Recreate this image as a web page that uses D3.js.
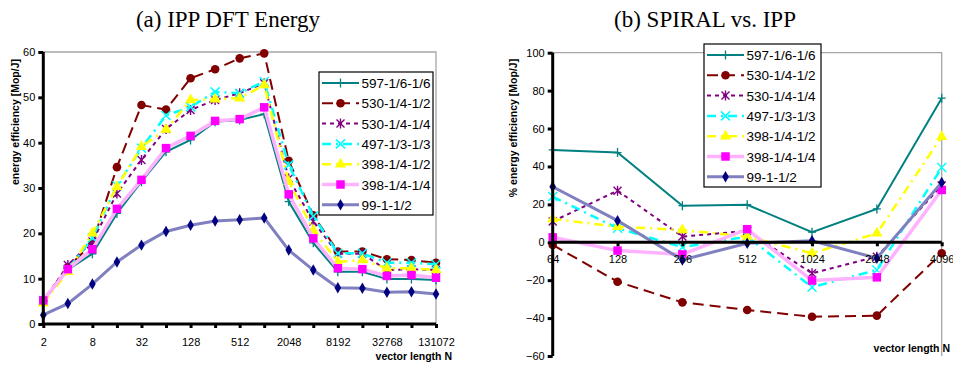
<!DOCTYPE html>
<html>
<head>
<meta charset="utf-8">
<script src="https://d3js.org/d3.v7.min.js"></script>
<style>
  body { margin: 0; background: #fff; }
  text { font-family: "Liberation Sans", Arial, sans-serif; }
  .title { font-family: "Liberation Serif", "Times New Roman", serif; font-size: 23px; }
</style>
</head>
<body>
<script>
// ---- data ----
var seriesNames = ["597-1/6-1/6", "530-1/4-1/2", "530-1/4-1/4", "497-1/3-1/3", "398-1/4-1/2", "398-1/4-1/4", "99-1-1/2"];

// (a) energy efficiency, vector length 2 .. 131072
var sizesA = ["2","4","8","16","32","64","128","256","512","1024","2048","4096","8192","16384","32768","65536","131072"];
var tickLabelsA = ["2","8","32","128","512","2048","8192","32768","131072"];
var yTicksA = [0, 10, 20, 30, 40, 50, 60];
var energy597   = [5.0, 12.0, 15.5, 24.4, 31.4, 38.0, 40.6, 44.6, 45.0, 46.3, 27.0, 17.9, 11.5, 11.5, 9.9, 9.9, 9.7];
var energy530a  = [5.3, 12.5, 17.8, 34.6, 48.3, 47.3, 54.2, 56.2, 58.6, 59.7, 36.0, 24.0, 16.0, 16.0, 14.3, 14.1, 13.5];
var energy530b  = [5.0, 13.0, 18.2, 28.8, 36.2, 43.0, 47.2, 49.4, 50.9, 53.1, 32.1, 22.6, 15.5, 15.5, 11.9, 12.1, 11.9];
var energy497   = [5.2, 12.0, 19.0, 30.5, 38.8, 46.0, 47.9, 51.2, 50.9, 53.5, 35.1, 23.8, 15.6, 15.6, 13.5, 13.5, 13.2];
var energy398a  = [4.6, 11.5, 20.0, 30.3, 39.1, 42.9, 49.4, 49.6, 49.8, 52.7, 31.4, 20.7, 13.7, 14.1, 12.3, 12.3, 11.9];
var energy398b  = [5.2, 12.1, 16.5, 25.4, 31.8, 38.8, 41.5, 44.8, 45.2, 47.8, 28.6, 18.9, 12.3, 12.1, 10.6, 10.8, 10.2];
var energy99    = [2.0, 4.5, 8.8, 13.7, 17.4, 20.4, 21.8, 22.7, 23.0, 23.4, 16.3, 11.9, 8.0, 7.9, 7.0, 7.1, 6.6];

// (b) % energy efficiency SPIRAL vs IPP, vector length 64 .. 4096
var sizesB = ["64","128","256","512","1024","2048","4096"];
var yTicksB = [-60, -40, -20, 0, 20, 40, 60, 80, 100];
var pct597  = [48.7, 47.3, 19.3, 19.8, 5.3, 17.6, 76.0];
var pct530a = [-1.4, -20.8, -31.7, -35.7, -39.3, -38.7, -5.8];
var pct530b = [11.0, 27.2, 3.0, 6.0, -16.4, -7.6, 30.0];
var pct497  = [24.1, 7.4, -2.6, 3.0, -23.7, -14.6, 39.4];
var pct398a = [12.3, 8.2, 6.5, 3.0, -5.8, 4.7, 55.7];
var pct398b = [2.6, -4.4, -6.4, 6.9, -20.2, -18.5, 27.6];
var pct99   = [29.3, 11.4, -9.3, -0.5, 0.8, -8.4, 31.5];

// ---- styles ----
var styles = [
  { line: "#008080", width: 2,   dash: null,      marker: "plus",     mfill: "#008080" },
  { line: "#800000", width: 2,   dash: "11,6",    marker: "circle",   mfill: "#800000" },
  { line: "#800080", width: 2,   dash: "4,4",     marker: "star",     mfill: "#800080" },
  { line: "#00FFFF", width: 2.5, dash: "9,5,2,5", marker: "x",        mfill: "#00FFFF" },
  { line: "#FFFF00", width: 2.5, dash: "9,5,2,5", marker: "triangle", mfill: "#FFFF00" },
  { line: "#FFB3FF", width: 3.5, dash: null,      marker: "square",   mfill: "#FF00FF" },
  { line: "#8080C0", width: 3,   dash: null,      marker: "diamond",  mfill: "#000080" }
];

var svg = d3.select("body").append("svg")
  .attr("width", 953)
  .attr("height", 365);

function drawMarker(g, type, color) {
  if (type === "plus") {
    g.append("path").attr("d", "M-4,0H4M0,-4.5V4.5").attr("stroke", color).attr("stroke-width", 1.3).attr("fill", "none");
  } else if (type === "x") {
    g.append("path").attr("d", "M-4.5,-4.5L4.5,4.5M-4.5,4.5L4.5,-4.5").attr("stroke", color).attr("stroke-width", 1.5).attr("fill", "none");
  } else if (type === "star") {
    g.append("path").attr("d", "M-4,-4L4,4M-4,4L4,-4M0,-5V5").attr("stroke", color).attr("stroke-width", 1.4).attr("fill", "none");
  } else {
    var sym = { circle: d3.symbolCircle, square: d3.symbolSquare, triangle: d3.symbolTriangle, diamond: d3.symbolDiamond }[type];
    var size = { circle: 58, square: 72, triangle: 55, diamond: 38 }[type];
    g.append("path").attr("d", d3.symbol().type(sym).size(size)()).attr("fill", color);
  }
}

function drawPanel(p) {
  var x = d3.scalePoint().domain(p.cats).range([p.left, p.right]);
  var y = d3.scaleLinear().domain(p.yDomain).range([p.bottom, p.top]);
  var g = svg.append("g");

  // plot-area border (top / right)
  g.append("path")
    .attr("d", "M" + p.left + "," + p.top + "H" + p.right + "V" + p.bottom)
    .attr("fill", "none").attr("stroke", "#a6a6a6").attr("stroke-width", 1.3);

  // series
  var line = d3.line().x(function (d, i) { return x(p.cats[i]); }).y(function (d) { return y(d); });
  p.series.forEach(function (vals, si) {
    var st = styles[si];
    g.append("path").datum(vals)
      .attr("d", line)
      .attr("fill", "none")
      .attr("stroke", st.line)
      .attr("stroke-width", st.width)
      .attr("stroke-dasharray", st.dash);
    vals.forEach(function (v, i) {
      var m = g.append("g").attr("transform", "translate(" + x(p.cats[i]) + "," + y(v) + ")");
      drawMarker(m, st.marker, st.mfill);
    });
  });

  // y axis
  var yAxis = g.append("g").attr("transform", "translate(" + p.left + ",0)")
    .call(d3.axisLeft(y).tickValues(p.yTicks).tickSize(5).tickPadding(3));
  yAxis.select(".domain").attr("stroke-width", 3).attr("d", "M0," + p.bottom + "V" + p.top);
  yAxis.selectAll(".tick line").attr("stroke-width", 3);
  yAxis.selectAll("text").style("font-size", "11px").attr("fill", "#000");

  // x axis
  var xAxis = g.append("g").attr("transform", "translate(0," + y(p.xAxisAt) + ")")
    .call(d3.axisBottom(x).tickSize(4).tickPadding(p.xPad)
      .tickFormat(function (d) { return p.xLabels.indexOf(d) >= 0 ? d : ""; }));
  xAxis.select(".domain").attr("stroke-width", 3).attr("d", "M" + p.left + ",0H" + p.right);
  xAxis.selectAll(".tick line").attr("stroke-width", 3);
  xAxis.selectAll("text").style("font-size", "11px").attr("fill", "#000");

  // axis titles
  g.append("text")
    .attr("transform", "translate(" + p.yTitleX + "," + p.yTitleY + ") rotate(-90)")
    .attr("text-anchor", "middle")
    .style("font-size", "10.5px").style("font-weight", "bold")
    .text(p.yTitle);
  g.append("text")
    .attr("x", p.xTitleX).attr("y", p.xTitleY)
    .attr("text-anchor", "end")
    .style("font-size", "10.5px").style("font-weight", "bold")
    .text("vector length N");

  // chart title
  svg.append("text").attr("class", "title")
    .attr("x", p.titleX).attr("y", 27)
    .attr("text-anchor", "middle")
    .text(p.title);

  // legend
  var lg = svg.append("g").attr("transform", "translate(" + p.legX + "," + p.legY + ")");
  lg.append("rect").attr("width", p.legW).attr("height", 143)
    .attr("fill", "#fff").attr("stroke", "#000").attr("stroke-width", 1.2);
  seriesNames.forEach(function (name, i) {
    var st = styles[i];
    var cy = 11 + i * 20.3;
    lg.append("line").attr("x1", 3).attr("x2", 40).attr("y1", cy).attr("y2", cy)
      .attr("stroke", st.line).attr("stroke-width", st.width)
      .attr("stroke-dasharray", st.dash);
    var m = lg.append("g").attr("transform", "translate(21.5," + cy + ")");
    drawMarker(m, st.marker, st.mfill);
    lg.append("text").attr("x", 42.5).attr("y", cy + 5)
      .style("font-size", "13.5px").text(name);
  });
}

drawPanel({
  cats: sizesA, xLabels: tickLabelsA, yTicks: yTicksA, yDomain: [0, 60],
  left: 43.3, right: 436, top: 52, bottom: 324, xAxisAt: 0, xPad: 10,
  series: [energy597, energy530a, energy530b, energy497, energy398a, energy398b, energy99],
  yTitle: "energy efficiency [Mop/J]", yTitleX: 19, yTitleY: 122,
  xTitleX: 452, xTitleY: 360,
  title: "(a) IPP DFT Energy", titleX: 228,
  legX: 319, legY: 72, legW: 114
});

drawPanel({
  cats: sizesB, xLabels: sizesB, yTicks: yTicksB, yDomain: [-60, 100],
  left: 552.7, right: 941.7, top: 52.7, bottom: 356, xAxisAt: 0, xPad: 9,
  series: [pct597, pct530a, pct530b, pct497, pct398a, pct398b, pct99],
  yTitle: "% energy efficiency [Mop/J]", yTitleX: 517, yTitleY: 128,
  xTitleX: 950, xTitleY: 352,
  title: "(b) SPIRAL vs. IPP", titleX: 705,
  legX: 704, legY: 44, legW: 117
});
</script>
</body>
</html>
